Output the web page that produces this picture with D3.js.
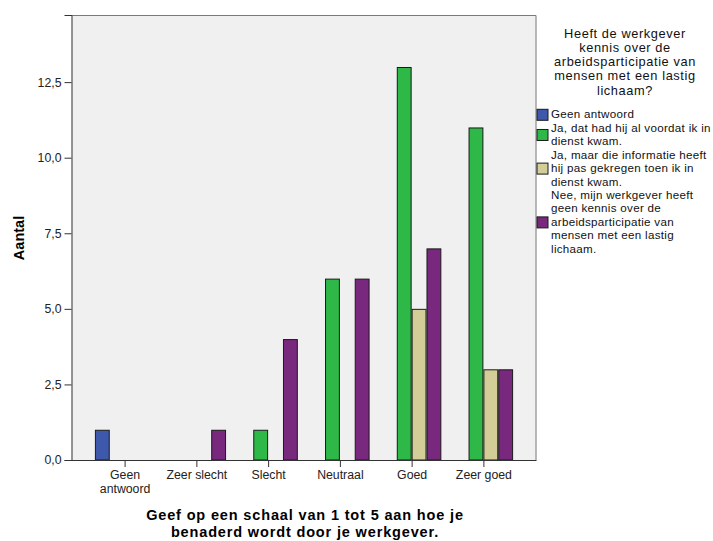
<!DOCTYPE html>
<html>
<head>
<meta charset="utf-8">
<script src="https://cdn.jsdelivr.net/npm/d3@7"></script>
<style>
  html, body { margin: 0; padding: 0; background: #fff; }
  svg { display: block; font-family: "Liberation Sans", Arial, sans-serif; }
</style>
</head>
<body>
<svg id="chart" width="713" height="541"></svg>
<script>
// ---------- data ----------
const categories = ["Geen antwoord", "Zeer slecht", "Slecht", "Neutraal", "Goed", "Zeer goed"];
const seriesKeys = ["geen", "jaVoordat", "jaPas", "nee"];
const geenAntwoord = [1, 0, 0, 0, 0, 0];
const jaVoordat    = [0, 0, 1, 6, 13, 11];
const jaPas        = [0, 0, 0, 0, 5, 3];
const nee          = [0, 1, 4, 6, 7, 3];
const seriesValues = [geenAntwoord, jaVoordat, jaPas, nee];
const seriesColors = ["#3E58AC", "#2EB848", "#D3CE97", "#78287D"];
const legendLabels = [
  ["Geen antwoord"],
  ["Ja, dat had hij al voordat ik in", "dienst kwam."],
  ["Ja, maar die informatie heeft", "hij pas gekregen toen ik in", "dienst kwam."],
  ["Nee, mijn werkgever heeft", "geen kennis over de", "arbeidsparticipatie van", "mensen met een lastig", "lichaam."]
];
const legendTitle = ["Heeft de werkgever", "kennis over de", "arbeidsparticipatie van", "mensen met een lastig", "lichaam?"];
const yTickValues = [0, 2.5, 5, 7.5, 10, 12.5];
const yTitle = "Aantal";
const xTitle = ["Geef op een schaal van 1 tot 5 aan hoe je", "benaderd wordt door je werkgever."];

// ---------- layout ----------
const svg = d3.select("#chart");
const plot = { left: 71.5, right: 536.5, top: 15, bottom: 460 };

const x = d3.scalePoint().domain(categories).range([plot.left, plot.right]).padding(0.74);
const groupWidth = 59.4;
const xs = d3.scaleBand().domain(seriesKeys).range([-groupWidth / 2, groupWidth / 2]);
const y = d3.scaleLinear().domain([0, 14.72]).range([plot.bottom, plot.top]);

// background
svg.append("rect").attr("width", 713).attr("height", 541).attr("fill", "#fff");
svg.append("rect")
  .attr("x", plot.left).attr("y", plot.top)
  .attr("width", plot.right - plot.left).attr("height", plot.bottom - plot.top)
  .attr("fill", "#F0F0F0");
// top & right frame
svg.append("path")
  .attr("d", `M${plot.left},${plot.top + 0.5}H${plot.right - 0.5}V${plot.bottom}`)
  .attr("fill", "none").attr("stroke", "#7a7a7a").attr("stroke-width", 1);

// bars
const barData = [];
seriesValues.forEach((vals, si) => {
  vals.forEach((v, ci) => {
    if (v > 0) barData.push({ key: seriesKeys[si], cat: categories[ci], value: v, color: seriesColors[si] });
  });
});
svg.append("g").selectAll("rect").data(barData).join("rect")
  .attr("x", d => x(d.cat) + xs(d.key) + 0.5)
  .attr("y", d => y(d.value) + 0.5)
  .attr("width", xs.bandwidth() - 1)
  .attr("height", d => y(0) - y(d.value) - 0.5)
  .attr("fill", d => d.color)
  .attr("stroke", "#1a1a1a").attr("stroke-width", 1);

// y axis
const yAxis = d3.axisLeft(y).tickValues(yTickValues).tickSize(7).tickPadding(3)
  .tickFormat(d => d.toFixed(1).replace(".", ","));
const gy = svg.append("g").attr("transform", `translate(${plot.left},0)`).call(yAxis);
gy.select(".domain").attr("stroke", "#333");
gy.selectAll(".tick line").attr("stroke", "#333");
gy.selectAll("text").attr("font-size", 12.3).attr("fill", "#222").attr("font-family", "Liberation Sans, Arial, sans-serif");

// x axis
const xAxis = d3.axisBottom(x).tickSize(7).tickPadding(3).tickSizeOuter(0);
const gx = svg.append("g").attr("transform", `translate(0,${plot.bottom})`).call(xAxis);
gx.select(".domain").attr("stroke", "#333").attr("d", `M${plot.left},0.5H${plot.right}`);
gx.selectAll(".tick line").attr("stroke", "#333");
gx.selectAll(".tick text")
  .attr("font-size", 12.3).attr("fill", "#222").attr("font-family", "Liberation Sans, Arial, sans-serif")
  .each(function (d) {
    const t = d3.select(this);
    const words = d.split(" ");
    const lines = (d.length > 12) ? words : [d];
    t.text(null);
    lines.forEach((ln, i) => {
      t.append("tspan").attr("x", 0).attr("dy", i === 0 ? "0.71em" : "1.14em").text(ln);
    });
  });

// y title
svg.append("text")
  .attr("transform", "translate(24,238) rotate(-90)")
  .attr("text-anchor", "middle")
  .attr("font-size", 14.5).attr("font-weight", "bold").attr("fill", "#000")
  .text(yTitle);

// x title
svg.append("g").selectAll("text").data(xTitle).join("text")
  .attr("x", 305).attr("y", (d, i) => 520 + i * 16.5)
  .attr("text-anchor", "middle")
  .attr("font-size", 14.5).attr("font-weight", "bold").attr("fill", "#000")
  .attr("letter-spacing", 0.85)
  .text(d => d);

// legend title
svg.append("g").selectAll("text").data(legendTitle).join("text")
  .attr("x", 625).attr("y", (d, i) => 37.5 + i * 14.3)
  .attr("text-anchor", "middle")
  .attr("font-size", 12.8).attr("fill", "#111")
  .attr("letter-spacing", 0.6)
  .text(d => d);

// legend items
const lineH = 13.45;
let lineIdx = 0;
const firstBaseline = 118.3;
const lg = svg.append("g");
legendLabels.forEach((lines, i) => {
  const startB = firstBaseline + lineIdx * lineH;
  const endB = startB + (lines.length - 1) * lineH;
  const mid = (startB + endB) / 2 - 3.5;
  lg.append("rect")
    .attr("x", 537).attr("y", mid - 6 + 0.5)
    .attr("width", 11).attr("height", 11)
    .attr("fill", seriesColors[i]).attr("stroke", "#1a1a1a").attr("stroke-width", 1);
  lines.forEach((ln, j) => {
    lg.append("text")
      .attr("x", 551).attr("y", startB + j * lineH)
      .attr("font-size", 11.6).attr("fill", "#111")
      .attr("letter-spacing", 0.3)
      .text(ln);
  });
  lineIdx += lines.length;
});
</script>
</body>
</html>
